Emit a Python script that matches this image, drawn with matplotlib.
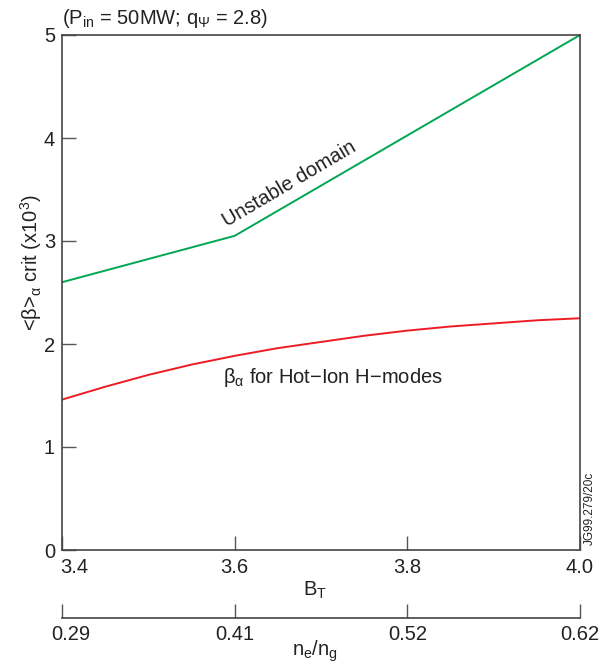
import matplotlib
matplotlib.use('Agg')
import matplotlib.pyplot as plt
from matplotlib.transforms import ScaledTranslation

# data
bt = [3.4, 3.6, 4.0]
beta_crit = [2.6, 3.05, 5.0]

bt_hot = [3.4, 3.45, 3.5, 3.55, 3.6, 3.65, 3.7, 3.75, 3.8, 3.85, 3.9, 3.95, 4.0]
beta_hot = [1.46, 1.585, 1.70, 1.80, 1.885, 1.96, 2.02, 2.08, 2.13, 2.17, 2.20, 2.23, 2.25]

bt_ticks = [3.4, 3.6, 3.8, 4.0]
bt_labels = ['3.4', '3.6', '3.8', '4.0']
ng_labels = ['0.29', '0.41', '0.52', '0.62']
y_ticks = [0, 1, 2, 3, 4, 5]

plt.rcParams['font.family'] = ['Liberation Sans', 'DejaVu Sans']
plt.rcParams['mathtext.default'] = 'regular'

fig = plt.figure(figsize=(6.07, 6.64), dpi=100)
W, H = 607, 664
FS = 14.5
TXT = '#222222'

# main axes
ax = fig.add_axes([62 / W, 1 - 550 / H, (580 - 62) / W, (550 - 35) / H])
ax.plot(bt, beta_crit, color='#00a651', lw=1.4)
ax.plot(bt_hot, beta_hot, color='#ed1c24', lw=1.4)
ax.set_xlim(3.4, 4.0)
ax.set_ylim(0, 5)
ax.set_xticks(bt_ticks)
ax.set_xticklabels(bt_labels)
ax.set_yticks(y_ticks)
ax.tick_params(direction='in', length=10, width=1, color='#555555',
               labelsize=FS, pad=5, colors=TXT)
ax.tick_params(axis='x', pad=6)
for s in ax.spines.values():
    s.set_color('#444444')
    s.set_linewidth(1.2)

ax.text(3.663, 3.55, 'Unstable domain', rotation=30.5, fontsize=FS,
        ha='center', va='center', color=TXT, rotation_mode='anchor')
ax.text(3.586, 1.67, 'β$_{α}$ for Hot−Ion H−modes', fontsize=FS,
        ha='left', va='center', color=TXT)

fig.text(62 / W, 1 - 18 / H, r'(P$_{in}$ = 50MW; q$_{Ψ}$ = 2.8)', fontsize=FS,
         ha='left', va='center', color=TXT)
fig.text(31 / W, 1 - 262 / H, r'<β>$_{α}$ crit (x10$^{3}$)', rotation=90, fontsize=FS,
         ha='center', va='center', color=TXT)
fig.text(590 / W, 1 - 508 / H, 'JG99.279/20c', rotation=90, fontsize=8.5,
         ha='center', va='center', color=TXT)
fig.text(315 / W, 1 - 590 / H, r'B$_{T}$', fontsize=FS, ha='center', va='center', color=TXT)
fig.text(315 / W, 1 - 651 / H, r'n$_{e}$/n$_{g}$', fontsize=FS, ha='center', va='center', color=TXT)

# secondary n_e/n_g axis
ax2 = fig.add_axes([62 / W, 1 - 618 / H, (580 - 62) / W, 0.001])
ax2.set_xlim(3.4, 4.0)
ax2.set_xticks(bt_ticks)
ax2.set_xticklabels(ng_labels)
ax2.set_yticks([])
for side in ['top', 'left', 'right']:
    ax2.spines[side].set_visible(False)
ax2.spines['bottom'].set_color('#444444')
ax2.spines['bottom'].set_linewidth(1.2)
ax2.tick_params(axis='x', direction='in', length=10, width=1, color='#555555',
                labelsize=FS, pad=5, colors=TXT)
ax2.patch.set_visible(False)

# first x labels sit a little right of their tick, as in the original
fig.canvas.draw()
for a, dx in [(ax, 12), (ax2, 9)]:
    lab = a.xaxis.get_major_ticks()[0].label1
    lab.set_transform(lab.get_transform() + ScaledTranslation(dx / 100, 0, fig.dpi_scale_trans))

fig.savefig('out.png', dpi=100)
